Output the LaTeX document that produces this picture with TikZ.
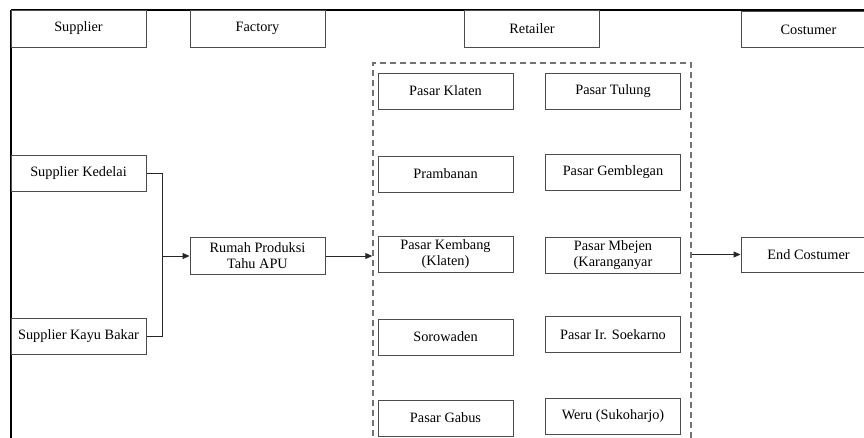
\documentclass[tikz,border=0pt]{standalone}
\usepackage{fontspec}
\setmainfont{Liberation Serif}
\usetikzlibrary{arrows.meta,calc}
\begin{document}
\begin{tikzpicture}[x=1pt,y=-1pt,
  box/.style={draw=black!70,line width=1pt,minimum width=135pt,minimum height=36pt,
    inner sep=1pt,align=center,text=black,font=\fontsize{14.3}{16}\selectfont},
  conn/.style={draw=black!85,line width=1pt},
  arr/.style={conn,-{Triangle[length=7pt,width=6pt]}},
  dashbox/.style={draw=black!55,line width=1.4pt,dash pattern=on 6pt off 4pt,minimum width=318pt,minimum height=397pt,inner sep=0pt}
]
\useasboundingbox (0,0) rectangle (864,437);
\clip (0,0) rectangle (864,437);
\fill[white] (0,0) rectangle (864,437);
% frame lines
\draw[black,line width=2pt] (11,10) -- (866,10);
\draw[black,line width=2pt] (11,10) -- (11,440);
% header boxes
\node[box,minimum height=37pt] (sup) at (78.5,28.5) {Supplier};
\node[box,minimum height=37pt] (fac) at (257.5,28.5) {Factory};
\node[box,minimum height=37pt] (ret) at (532,29) {Retailer};
\node[box] (cos) at (808.5,29.5) {Costumer};
% suppliers
\node[box] (ked) at (78.5,173) {Supplier Kedelai};
\node[box] (kay) at (78.5,336) {Supplier Kayu Bakar};
% factory
\node[box,minimum height=37pt] (rum) at (257.5,256) {Rumah Produksi\\Tahu APU};
% retailer group
\node[dashbox] (rbox) at (532,261.5) {};
\node[box] (pk) at (445.5,91) {Pasar Klaten};
\node[box] (pt) at (613,91.5) {Pasar Tulung};
\node[box] (pr) at (445.5,174) {Prambanan};
\node[box] (pg) at (613,172) {Pasar Gemblegan};
\node[box] (pkb) at (445.5,254) {Pasar Kembang\\(Klaten)};
\node[box] (pm) at (613,255.5) {Pasar Mbejen\\(Karanganyar};
\node[box] (so) at (445.5,337) {Sorowaden};
\node[box] (ps) at (613,334.5) {Pasar Ir. Soekarno};
\node[box] (pgb) at (445.5,418) {Pasar Gabus};
\node[box] (we) at (613,416) {Weru (Sukoharjo)};
% costumer
\node[box,minimum height=35pt] (end) at (808.5,254.5) {End Costumer};
% connectors
\draw[conn] (ked.east) -- ++(16,0) coordinate (j) |- (kay.east);
\draw[arr] (j |- rum.west) -- (rum.west);
\draw[arr] (rum.east) -- (rum.east -| rbox.west);
\draw[arr] (end.west -| rbox.east) -- (end.west);
\end{tikzpicture}
\end{document}
